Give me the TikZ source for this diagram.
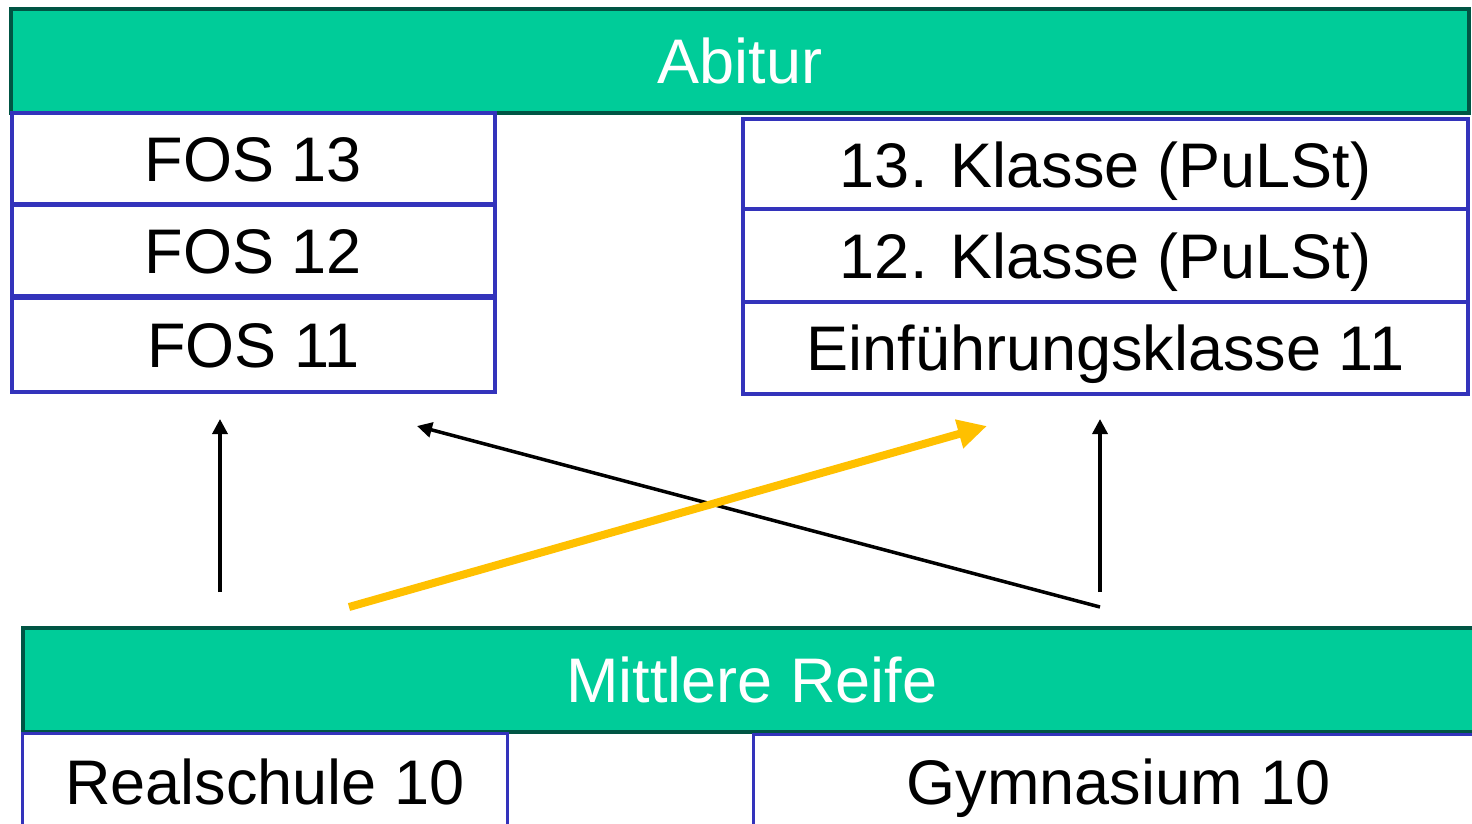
\documentclass[tikz,border=0pt]{standalone}
\usepackage{fontspec}
\setmainfont{Liberation Sans}
\usetikzlibrary{arrows.meta}
\definecolor{abigreen}{RGB}{0,204,153}
\definecolor{abiedge}{RGB}{0,85,68}
\definecolor{boxblue}{RGB}{51,51,187}
\definecolor{arrowyellow}{RGB}{255,192,0}
\tikzset{
  lbl/.style={font=\fontsize{63}{75}\selectfont, text height=45pt, text depth=0pt, inner sep=0pt, anchor=north west},
  band/.style={lbl, draw=abiedge, fill=abigreen, line width=4pt, text=white},
  classbox/.style={lbl, draw=boxblue, fill=white, line width=4pt, text=black},
  schoolbox/.style={lbl, draw=boxblue, fill=white, line width=3pt, text=black},
  blackarrow/.style={draw=black, line width=3.5pt, -{Triangle[length=15pt,width=15pt]}},
  yellowarrow/.style={draw=arrowyellow, line width=8pt, -{Triangle[length=29pt,width=28pt]}}
}
\begin{document}
\begin{tikzpicture}[x=1pt,y=-1pt]
\useasboundingbox (0,0) rectangle (1472,823);
% top band
\node[band, minimum width=1458pt, minimum height=104pt] (abitur) at (9,7) {Abitur};
% FOS column
\node[classbox, minimum width=483pt, minimum height=91pt] (fos13) at (10,111) {FOS 13};
\node[classbox, minimum width=483pt, minimum height=91pt] (fos12) at (10,203) {FOS 12};
\node[classbox, minimum width=483pt, minimum height=94pt] (fos11) at (10,296) {FOS 11};
% Gymnasium column
\node[classbox, minimum width=725pt, minimum height=91pt] (k13) at (741,117) {13. Klasse (PuLSt)};
\node[classbox, minimum width=725pt, minimum height=93pt] (k12) at (741,207) {12. Klasse (PuLSt)};
\node[classbox, minimum width=725pt, minimum height=92pt] (k11) at (741,300) {Einführungsklasse 11};
% bottom band
\node[band, minimum width=1458pt, minimum height=104pt] (mreife) at (21,626) {Mittlere Reife};
\node[schoolbox, minimum width=485pt, minimum height=96pt] (real) at (21,732) {Realschule 10};
\node[schoolbox, minimum width=730pt, minimum height=94pt] (gym) at (752,733) {Gymnasium 10};
% arrow end points
\coordinate (rs) at (220,592);
\coordinate (fosin) at (220,419);
\coordinate (gs) at (1100,592);
\coordinate (kin) at (1100,419);
\coordinate (gx) at (1100,607);
\coordinate (fosx) at (417,426);
\coordinate (rx) at (349,607);
\coordinate (kx) at (987,426);
% arrows
\draw[blackarrow] (rs) -- (fosin);
\draw[blackarrow] (gs) -- (kin);
\draw[blackarrow] (gx) -- (fosx);
\draw[yellowarrow] (rx) -- (kx);
\end{tikzpicture}
\end{document}
